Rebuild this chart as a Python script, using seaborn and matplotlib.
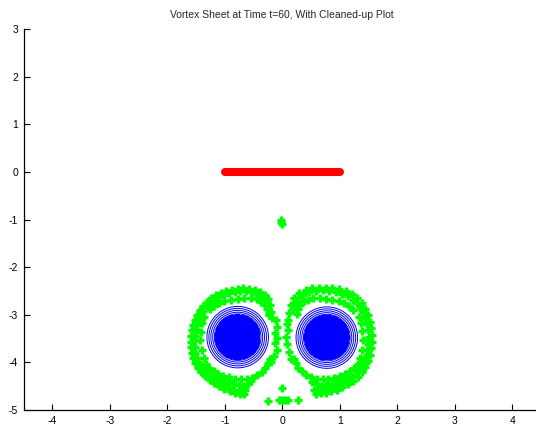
import numpy as np
import matplotlib
matplotlib.use("Agg")
import matplotlib.pyplot as plt
import seaborn as sns
import pandas as pd

# ---- data -------------------------------------------------------------
# flat vortex sheet at its initial position
sheet_x = [-1.0, 1.0]
sheet_y = [0.0, 0.0]

# rolled-up sheet markers, left spiral (outer arm, inner arm, trailing column)
left_x = [
    -0.171, -0.188, -0.211, -0.246, -0.304, -0.385, -0.477, -0.576, -0.674, -0.778,
    -0.877, -0.975, -1.068, -1.155, -1.236, -1.311, -1.374, -1.432, -1.479, -1.519,
    -1.548, -1.571, -1.583, -1.589, -1.583, -1.571, -1.548, -1.513, -1.467, -1.409,
    -1.340, -1.264, -1.184, -1.097, -1.010, -0.917, -0.825, -0.734, -0.663,
    -0.23, -0.25, -0.28, -0.32, -0.39, -0.45, -0.53, -0.63, -0.73, -0.83,
    -0.93, -1.02, -1.10, -1.18, -1.25, -1.31, -1.37, -1.41, -1.45, -1.48,
    -1.50, -1.52, -1.53, -1.52, -1.51, -1.49, -1.46, -1.42, -1.37, -1.31,
    -1.24, -1.17, -1.09, -1.01, -0.93, -0.84, -0.76,
    -0.894, -0.778, -0.663, -0.547, -0.443, -0.362, -0.298, -0.258, -0.229,
    -1.010, -1.097, -1.184, -1.253, -1.357, -1.397, -1.415, -1.426, -1.403, -1.368,
    -1.328, -1.270, -1.195, -1.115, -1.022, -0.923, -0.825, -0.720, -0.616, -0.518,
    -0.431, -0.356, -0.292, -0.246, -0.217,
    -0.11, -0.095, -0.13, -0.095, -0.12, -0.095, -0.15, -0.20,
    -1.15, -1.05, -0.95, -0.85, -0.75, -0.68, -0.60, -0.55, -0.70, -0.65,
]
left_y = [
    -3.074, -2.934, -2.794, -2.675, -2.584, -2.514, -2.472, -2.451, -2.444, -2.451,
    -2.472, -2.500, -2.542, -2.591, -2.654, -2.724, -2.808, -2.899, -2.997, -3.102,
    -3.214, -3.326, -3.445, -3.565, -3.684, -3.803, -3.915, -4.020, -4.118, -4.209,
    -4.293, -4.370, -4.440, -4.503, -4.559, -4.601, -4.636, -4.657, -4.671,
    -3.00, -2.88, -2.77, -2.68, -2.60, -2.55, -2.52, -2.51, -2.51, -2.52,
    -2.55, -2.58, -2.63, -2.69, -2.76, -2.83, -2.92, -3.01, -3.11, -3.21,
    -3.33, -3.44, -3.56, -3.68, -3.80, -3.90, -4.00, -4.08, -4.16, -4.23,
    -4.30, -4.37, -4.43, -4.48, -4.53, -4.57, -4.60,
    -2.689, -2.661, -2.647, -2.654, -2.675, -2.724, -2.794, -2.885, -2.983,
    -2.717, -2.759, -2.815, -2.885, -3.039, -3.179, -3.354, -3.529, -3.740, -3.915,
    -4.034, -4.118, -4.188, -4.244, -4.286, -4.314, -4.342, -4.356, -4.349, -4.321,
    -4.272, -4.202, -4.118, -4.020, -3.922,
    -3.11, -3.25, -3.39, -3.49, -3.60, -3.74, -3.87, -3.99,
    -4.33, -4.38, -4.42, -4.45, -4.48, -4.50, -4.45, -4.40, -4.62, -4.58,
]

# right spiral
right_x = [
    0.119, 0.148, 0.205, 0.292, 0.408, 0.524, 0.640, 0.755, 0.871, 0.987,
    1.103, 1.207, 1.305, 1.380, 1.438, 1.484, 1.519, 1.542, 1.554, 1.554,
    1.542, 1.519, 1.484, 1.438, 1.380, 1.311, 1.230, 1.137, 1.045, 0.946,
    0.848, 0.755, 0.668, 0.582,
    0.18, 0.22, 0.28, 0.36, 0.46, 0.58, 0.70, 0.81, 0.93, 1.04,
    1.14, 1.23, 1.30, 1.36, 1.41, 1.44, 1.47, 1.49, 1.50, 1.49,
    1.47, 1.44, 1.40, 1.35, 1.28, 1.20, 1.11, 1.01, 0.91, 0.81,
    0.71, 0.63,
    0.26, 0.28, 0.31, 0.37, 0.45, 0.54, 0.65, 0.76, 0.87, 0.98,
    1.07, 1.16, 1.23,
    1.33, 1.37, 1.39, 1.40, 1.38, 1.35, 1.31,
    1.25, 1.17, 1.09, 1.00, 0.90, 0.80, 0.70, 0.60, 0.50, 0.41,
    0.34, 0.28, 0.24, 0.21,
    0.10, 0.08, 0.10, 0.06, 0.09, 0.12, 0.16,
    1.16, 1.06, 0.96, 0.86, 0.76, 0.68, 0.60, 0.52, 0.62, 0.56,
]
right_y = [
    -2.969, -2.794, -2.654, -2.549, -2.479, -2.445, -2.430, -2.430, -2.440, -2.465,
    -2.507, -2.570, -2.654, -2.759, -2.878, -3.004, -3.144, -3.284, -3.424, -3.565,
    -3.705, -3.845, -3.971, -4.090, -4.195, -4.300, -4.384, -4.461, -4.524, -4.573,
    -4.608, -4.636, -4.650, -4.671,
    -2.88, -2.75, -2.65, -2.58, -2.53, -2.50, -2.49, -2.50, -2.52, -2.56,
    -2.61, -2.68, -2.76, -2.85, -2.95, -3.06, -3.19, -3.33, -3.47, -3.61,
    -3.75, -3.88, -3.99, -4.10, -4.19, -4.27, -4.35, -4.42, -4.47, -4.52,
    -4.56, -4.58,
    -2.98, -2.88, -2.79, -2.72, -2.68, -2.65, -2.645, -2.66, -2.69, -2.72,
    -2.76, -2.82, -2.89,
    -3.04, -3.18, -3.35, -3.53, -3.74, -3.91, -4.03,
    -4.12, -4.19, -4.24, -4.29, -4.32, -4.34, -4.35, -4.34, -4.31, -4.26,
    -4.19, -4.11, -4.01, -3.92,
    -3.10, -3.20, -3.33, -3.47, -3.62, -3.78, -3.93,
    -4.32, -4.37, -4.41, -4.45, -4.47, -4.49, -4.46, -4.42, -4.60, -4.57,
]

# isolated markers shed from the sheet
stray_x = [-0.03, -0.02, 0.00, 0.00, -0.25, -0.06, 0.00, 0.05, 0.10, 0.27]
stray_y = [-1.00, -1.05, -1.09, -4.54, -4.82, -4.80, -4.80, -4.80, -4.80, -4.80]

# vortex cores: centre and semi-axes of the outermost streamline
core_x = [-0.775, 0.775]
core_y = [-3.47, -3.48]
core_rx = [0.535, 0.535]
core_ry = [0.645, 0.645]

x_ticks = [-4, -3, -2, -1, 0, 1, 2, 3, 4]
y_ticks = [-5, -4, -3, -2, -1, 0, 1, 2, 3]

# ---- figure -----------------------------------------------------------
sns.set_style("ticks")
plt.rcParams["font.family"] = ["Liberation Sans", "DejaVu Sans"]

fig = plt.figure(figsize=(5.36, 4.30), dpi=100)
ax = fig.add_axes([23.5 / 536, 20 / 430, (541 - 23.5) / 536, (410 - 29) / 430])

# streamlines around each core: a few separated outer rings, then a tightly
# packed core
gx = np.linspace(-1.7, 1.7, 69)
gy = np.linspace(-4.4, -2.5, 39)
GX, GY = np.meshgrid(gx, gy)
outer_levels = np.sort(np.log([1.0, 0.935, 0.872, 0.812, 0.757]))
inner_levels = np.sort(np.log(0.71 * 0.96 ** np.arange(0, 110)))
for cx, cy, rx, ry in zip(core_x, core_y, core_rx, core_ry):
    r = np.sqrt(((GX - cx) / rx) ** 2 + ((GY - cy) / ry) ** 2)
    psi = np.log(np.maximum(r, 1e-4))
    ax.contour(GX, GY, psi, levels=outer_levels, colors=[(0, 0, 1)],
               linewidths=0.7, linestyles="solid")
    ax.contour(GX, GY, psi, levels=inner_levels, colors=[(0, 0, 1)],
               linewidths=0.6, linestyles="solid", antialiased=False)

sheet = pd.DataFrame({"x": sheet_x, "y": sheet_y})
sns.lineplot(data=sheet, x="x", y="y", color=(1, 0, 0), lw=5.8, sort=False,
             ax=ax, solid_capstyle="round")

markers = pd.DataFrame({
    "x": left_x + right_x + stray_x,
    "y": left_y + right_y + stray_y,
})
sns.scatterplot(data=markers, x="x", y="y", marker="+", color=(0, 1, 0),
                s=28, linewidth=2.4, ax=ax, zorder=3)

ax.set_xlim(-4.5, 4.5)
ax.set_ylim(-5, 3)
ax.set_xticks(x_ticks)
ax.set_yticks(y_ticks)
ax.set_xticklabels([str(v) for v in x_ticks])
ax.set_yticklabels([str(v) for v in y_ticks])
ax.set_xlabel("")
ax.set_ylabel("")
sns.despine(ax=ax)
ax.tick_params(direction="in", length=4, width=0.8, labelsize=7.5, pad=4,
               colors="black")
for side in ("left", "bottom"):
    ax.spines[side].set_linewidth(0.9)
    ax.spines[side].set_color("black")
ax.set_title("Vortex Sheet at Time t=60, With Cleaned-up Plot", fontsize=7.5, pad=8)

fig.savefig("out.png", dpi=100)
